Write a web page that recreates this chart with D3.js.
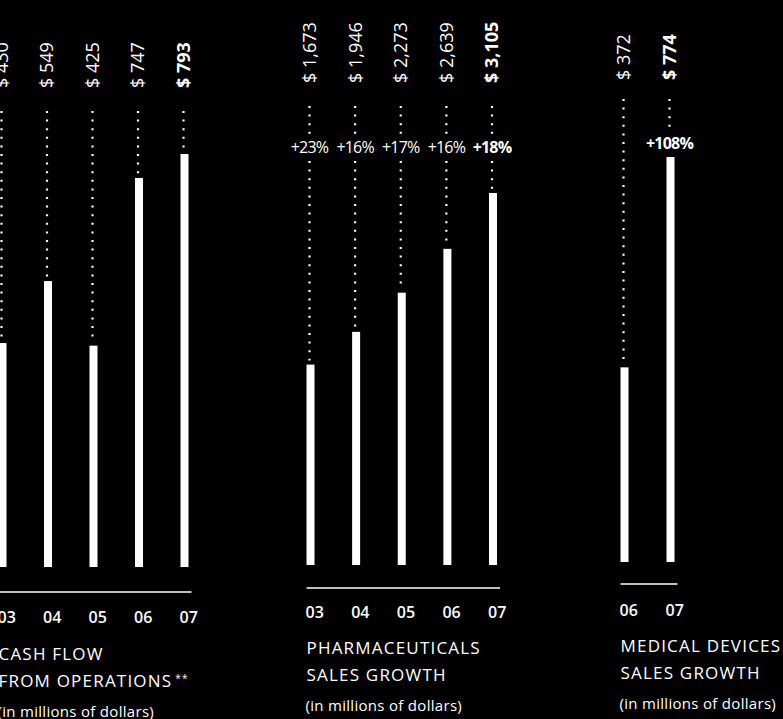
<!DOCTYPE html>
<html>
<head>
<meta charset="utf-8">
<script src="https://cdn.jsdelivr.net/npm/d3@7"></script>
<style>
  html, body { margin: 0; padding: 0; background: #000; }
  svg { display: block; }
  text { font-family: "Open Sans", "Noto Sans", sans-serif; fill: #fff; }
</style>
</head>
<body>
<svg id="chart" width="783" height="719"></svg>
<script>
// data
var cashYears = ["03", "04", "05", "06", "07"];
var cashValues = [430, 549, 425, 747, 793];

var pharmaYears = ["03", "04", "05", "06", "07"];
var pharmaValues = [1673, 1946, 2273, 2639, 3105];
var pharmaGrowth = ["+23%", "+16%", "+17%", "+16%", "+18%"];

var deviceYears = ["06", "07"];
var deviceValues = [372, 774];
var deviceGrowth = [null, "+108%"];

var cashTitle = ["CASH FLOW", "FROM OPERATIONS"];
var pharmaTitle = ["PHARMACEUTICALS", "SALES GROWTH"];
var deviceTitle = ["MEDICAL DEVICES", "SALES GROWTH"];
var unitText = "(in millions of dollars)";

var svg = d3.select("#chart");
svg.append("rect").attr("width", 783).attr("height", 719).attr("fill", "#000");

var barWidth = 8;
var fmt = d3.format(",");

function drawPanel(p) {
  var x = d3.scalePoint().domain(p.years).range([p.x0, p.x1]);
  var y = d3.scaleLinear().domain([0, d3.max(p.values)]).range([p.base, p.top]);
  var last = p.years.length - 1;
  var g = svg.append("g");

  var rows = p.years.map(function(yr, i) {
    return { year: yr, value: p.values[i], growth: p.growth ? p.growth[i] : null, i: i };
  });

  // dotted leaders
  rows.forEach(function(d) {
    var cx = x(d.year) - 1;
    var segs = [];
    if (d.growth) {
      segs.push([p.dotTop, p.pctY - 12]);
      if (y(d.value) - 4 > p.pctY + 14) segs.push([p.pctY + 14, y(d.value) - 4]);
    } else {
      segs.push([p.dotTop, y(d.value) - 4]);
    }
    segs.forEach(function(s) {
      g.append("line")
        .attr("x1", cx).attr("x2", cx)
        .attr("y1", s[0]).attr("y2", s[1])
        .attr("stroke", "#fff")
        .attr("stroke-width", 2.2)
        .attr("stroke-dasharray", "2,6.6");
    });
  });

  // bars
  g.selectAll(".bar").data(rows).enter()
    .append("rect")
    .attr("class", "bar")
    .attr("x", function(d) { return x(d.year) - barWidth / 2; })
    .attr("y", function(d) { return y(d.value); })
    .attr("width", barWidth)
    .attr("height", function(d) { return p.base - y(d.value); })
    .attr("fill", "#fff");

  // value labels, rotated
  g.selectAll(".val").data(rows).enter()
    .append("text")
    .attr("class", "val")
    .attr("transform", function(d) { return "translate(" + (x(d.year) - 1) + "," + p.labelBottom + ") rotate(-90)"; })
    .attr("dy", "0.36em")
    .style("font-size", "18px")
    .style("font-weight", function(d) { return d.i == last ? 700 : 400; })
    .text(function(d) { return "$ " + fmt(d.value); });

  // growth labels
  g.selectAll(".pct").data(rows.filter(function(d) { return d.growth; })).enter()
    .append("text")
    .attr("class", "pct")
    .attr("x", function(d) { return x(d.year) - 1; })
    .attr("y", p.pctY)
    .attr("dy", "0.36em")
    .attr("text-anchor", "middle")
    .style("font-size", "16px")
    .style("letter-spacing", "-0.8px")
    .style("font-weight", function(d) { return d.i == last ? 700 : 400; })
    .text(function(d) { return d.growth; });

  // axis line
  g.append("line")
    .attr("x1", x(p.years[0]) - barWidth / 2)
    .attr("x2", x(p.years[last]) + barWidth / 2 + 3)
    .attr("y1", p.axisY).attr("y2", p.axisY)
    .attr("stroke", "#fff")
    .attr("stroke-width", 1.6);

  // year ticks
  g.selectAll(".yr").data(rows).enter()
    .append("text")
    .attr("class", "yr")
    .attr("x", function(d) { return x(d.year) - barWidth / 2 - 1; })
    .attr("y", p.tickY)
    .style("font-size", "16px")
    .style("font-weight", 600)
    .text(function(d) { return d.year; });

  // titles
  p.title.forEach(function(t, i) {
    var tx = g.append("text")
      .attr("x", x(p.years[0]) - barWidth / 2)
      .attr("y", p.titleY + i * 27)
      .style("font-size", "17px")
      .style("font-weight", 500)
      .style("letter-spacing", "1.2px")
      .text(t);
    if (p.note && i == p.title.length - 1) {
      tx.append("tspan").attr("dy", "-0.55em").attr("dx", "3px").style("font-size", "10px").text("**");
    }
  });

  g.append("text")
    .attr("x", x(p.years[0]) - barWidth / 2 - 1)
    .attr("y", p.titleY + 57)
    .style("font-size", "15px")
    .style("letter-spacing", "0.3px")
    .text(unitText);
}

drawPanel({
  years: cashYears, values: cashValues, growth: null, title: cashTitle, note: true,
  x0: 2.5, x1: 184.5, base: 567, top: 154,
  labelBottom: 88, dotTop: 111, pctY: 0,
  axisY: 592, tickY: 623, titleY: 660
});

drawPanel({
  years: pharmaYears, values: pharmaValues, growth: pharmaGrowth, title: pharmaTitle, note: false,
  x0: 310.5, x1: 493, base: 565, top: 193,
  labelBottom: 83, dotTop: 106, pctY: 147,
  axisY: 588, tickY: 618, titleY: 654
});

drawPanel({
  years: deviceYears, values: deviceValues, growth: deviceGrowth, title: deviceTitle, note: false,
  x0: 624.5, x1: 670.5, base: 562, top: 157,
  labelBottom: 80, dotTop: 99, pctY: 143,
  axisY: 584, tickY: 616, titleY: 652
});
</script>
</body>
</html>
